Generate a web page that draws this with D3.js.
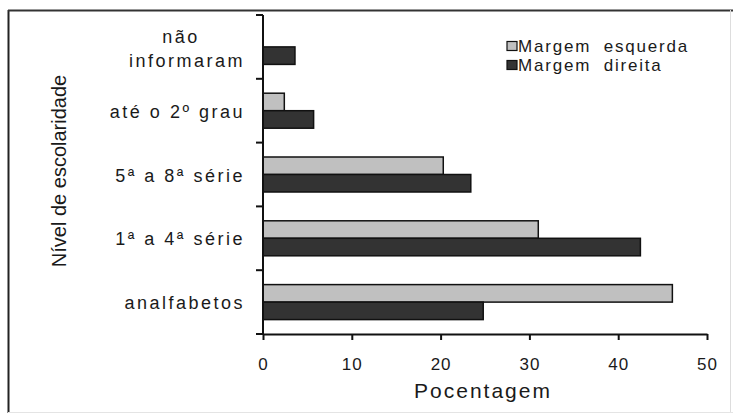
<!DOCTYPE html>
<html><head><meta charset="utf-8">
<script src="https://cdn.jsdelivr.net/npm/d3@7"></script>
<style>body{margin:0;background:#fff}svg{display:block}text{font-family:"Liberation Sans",Arial,sans-serif;fill:#1a1a1a}</style>
</head><body><svg id="c" width="733" height="413"></svg>
<script>
const categories = ["não informaram","até o 2º grau","5ª a 8ª série","1ª a 4ª série","analfabetos"];
const seriesNames = ["Margem esquerda","Margem direita"];
const esquerda = [0, 2.4, 20.3, 31.0, 46.1];
const direita = [3.6, 5.7, 23.4, 42.5, 24.8];
const xTicks = [0,10,20,30,40,50];
const colors = ["#c0c0c0","#333333"];

const svg = d3.select("#c");
// outer frame
svg.append("line").attr("x1",8.5).attr("x2",8.5).attr("y1",10).attr("y2",413).attr("stroke","#222").attr("stroke-width",2);
svg.append("line").attr("x1",8).attr("x2",733).attr("y1",10.5).attr("y2",10.5).attr("stroke","#333").attr("stroke-width",2);
svg.append("line").attr("x1",730.5).attr("x2",730.5).attr("y1",10).attr("y2",413).attr("stroke","#ddd");
svg.append("line").attr("x1",8).attr("x2",733).attr("y1",412.5).attr("y2",412.5).attr("stroke","#e4e4e4");

const x = d3.scaleLinear().domain([0,50]).range([263,707]);
const y = d3.scaleBand().domain(categories).range([15,334]);
const sub = d3.scaleBand().domain(seriesNames).range([0,35]);
const pad = (y.bandwidth()-35)/2;

const data = categories.map((c,i)=>({c, vals:[esquerda[i], direita[i]]}));
const g = svg.append("g");
data.forEach(d=>{
  d.vals.forEach((v,j)=>{
    if(v<=0) return;
    g.append("rect").attr("x",x(0)).attr("y",y(d.c)+pad+sub(seriesNames[j]))
     .attr("width",x(v)-x(0)).attr("height",sub.bandwidth())
     .attr("fill",colors[j]).attr("stroke","#111").attr("stroke-width",1.5);
  });
});

// y axis with ticks at band boundaries
const yBounds = categories.map(c=>y(c)).concat([334]);
svg.append("line").attr("x1",263).attr("x2",263).attr("y1",15).attr("y2",334).attr("stroke","#111").attr("stroke-width",2);
yBounds.forEach(b=>svg.append("line").attr("x1",256).attr("x2",263).attr("y1",b).attr("y2",b).attr("stroke","#111").attr("stroke-width",2));

// x axis
const xa = svg.append("g").attr("transform","translate(0,334)").call(d3.axisBottom(x).tickValues(xTicks).tickSize(6).tickSizeOuter(0));
xa.select(".domain").attr("stroke","#111").attr("stroke-width",2);
xa.selectAll(".tick line").attr("stroke","#111").attr("stroke-width",2);
xa.selectAll(".tick text").attr("y",36).attr("dy",0).attr("font-size",17).attr("font-family","Liberation Sans, Arial, sans-serif").attr("fill","#1a1a1a").style("letter-spacing","1px");

// category labels
const lab = {"font-size":18, ls:"2.5px"};
data.forEach(d=>{
  const cy = y(d.c)+y.bandwidth()/2;
  if(d.c==="não informaram"){
    svg.append("text").attr("x",181).attr("y",cy-4).attr("text-anchor","middle").attr("font-size",lab["font-size"]).style("letter-spacing",lab.ls).text("não");
    svg.append("text").attr("x",245).attr("y",cy+20).attr("text-anchor","end").attr("font-size",lab["font-size"]).style("letter-spacing",lab.ls).text("informaram");
  } else {
    svg.append("text").attr("x",245).attr("y",cy+7).attr("text-anchor","end").attr("font-size",lab["font-size"]).style("letter-spacing",lab.ls).text(d.c);
  }
});

// axis titles
svg.append("text").attr("transform","translate(66,171) rotate(-90)").attr("text-anchor","middle").attr("font-size",20).text("Nível de escolaridade");
svg.append("text").attr("x",483).attr("y",398).attr("text-anchor","middle").attr("font-size",21).style("letter-spacing","2px").text("Pocentagem");

// legend
seriesNames.forEach((s,i)=>{
  const ly = 46 + i*19;
  svg.append("rect").attr("x",507).attr("y",ly-4.5).attr("width",10).attr("height",9).attr("fill",colors[i]).attr("stroke","#111").attr("stroke-width",1.2);
  svg.append("text").attr("x",518).attr("y",ly+6).attr("font-size",17).style("letter-spacing","1.8px").style("word-spacing","6px").text(s);
});
</script></body></html>
